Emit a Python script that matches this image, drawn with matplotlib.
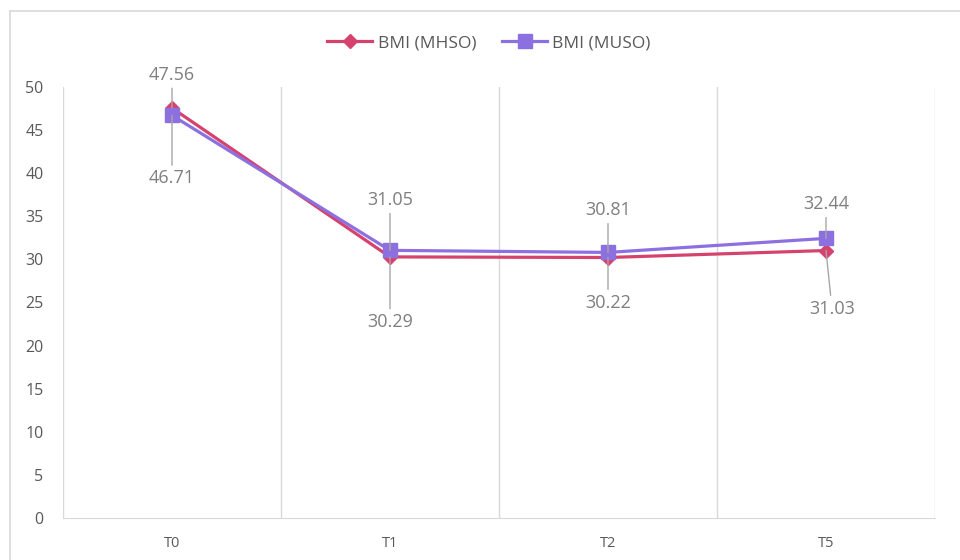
import matplotlib
matplotlib.use("Agg")
import matplotlib.pyplot as plt
from matplotlib.lines import Line2D

plt.rcParams['font.family'] = ['Open Sans', 'DejaVu Sans']

# datos
momentos = ['T0', 'T1', 'T2', 'T5']
bmi_mhso = [47.56, 30.29, 30.22, 31.03]
bmi_muso = [46.71, 31.05, 30.81, 32.44]

# desplazamiento de etiquetas (px) respecto al punto
off_mhso = [(0, 33), (0, -65), (0, -45), (6, -58)]
off_muso = [(0, -63), (0, 50), (0, 42), (0, 34)]

col_mhso = '#D6426E'
col_muso = '#8D70E0'
gris = '#D9D9D9'
txt = '#595959'
txt_lbl = '#7F7F7F'

fig = plt.figure(figsize=(9.6, 5.6), dpi=100)
ax = fig.add_axes([63/960, 1 - 518/560, (935 - 63)/960, (518 - 87)/560])

x = range(len(momentos))
ax.plot(x, bmi_mhso, color=col_mhso, lw=2.3, marker='D', ms=7,
        label='BMI (MHSO)', zorder=3)
ax.plot(x, bmi_muso, color=col_muso, lw=2.3, marker='s', ms=10,
        label='BMI (MUSO)', zorder=4)

# etiquetas con líneas guía
for vals, offs in [(bmi_mhso, off_mhso), (bmi_muso, off_muso)]:
    for i, (v, o) in enumerate(zip(vals, offs)):
        ax.annotate(f'{v:.2f}', xy=(i, v), xytext=o, textcoords='offset pixels',
                    ha='center', va='center', fontsize=13, color=txt_lbl,
                    arrowprops=dict(arrowstyle='-', color='#A6A6A6', lw=1,
                                    shrinkA=1, shrinkB=0),
                    zorder=5)

ax.set_xlim(-0.5, len(momentos) - 0.5)
ax.set_ylim(0, 50)
ax.set_yticks(range(0, 51, 5))
ax.set_xticks(list(x))
ax.set_xticklabels(momentos, fontsize=10.5, color=txt)
ax.tick_params(axis='y', labelsize=11.5, colors=txt, length=0, pad=14)
ax.tick_params(axis='x', length=0, pad=13)

for b in [k + 0.5 for k in range(-1, len(momentos))]:
    ax.axvline(b, color=gris, lw=1, zorder=1)
for s in ['top', 'right', 'left']:
    ax.spines[s].set_visible(False)
ax.spines['bottom'].set_color(gris)

ax.legend(loc='center', bbox_to_anchor=(489/960, 1 - 43/560),
          bbox_transform=fig.transFigure, ncol=2, frameon=False,
          fontsize=12.5, labelcolor=txt, handlelength=2.6, handletextpad=0.3,
          columnspacing=1.5)

# marco exterior
fig.add_artist(Line2D([10/960, 10/960], [0, 1 - 11/560], color=gris, lw=1.2,
                      transform=fig.transFigure))
fig.add_artist(Line2D([10/960, 1], [1 - 11/560, 1 - 11/560], color=gris, lw=1.2,
                      transform=fig.transFigure))

fig.savefig('out.png', dpi=100)
